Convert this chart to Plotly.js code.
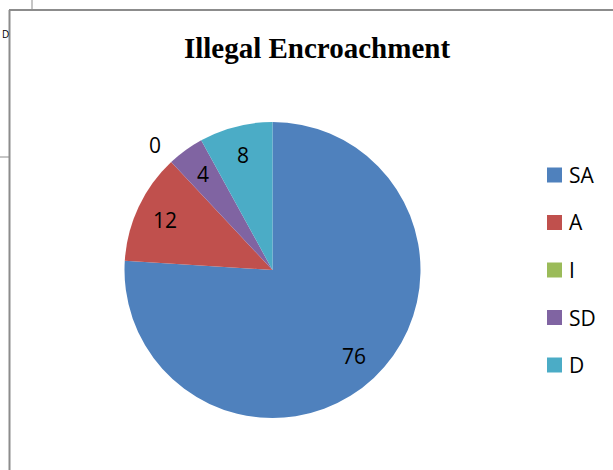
<!DOCTYPE html>
<html>
<head>
<meta charset="utf-8">
<script src="https://cdn.plot.ly/plotly-3.0.1.min.js"></script>
<style>html,body{margin:0;padding:0;background:#fff;}#chart{width:613px;height:470px;}</style>
</head>
<body>
<div id="chart"></div>
<script>
const categories = ["SA", "A", "I", "SD", "D"];
const values = [76, 12, 0, 4, 8];
const colors = ["#4F81BD", "#C0504D", "#9BBB59", "#8064A2", "#4BACC6"];
const chartTitle = "Illegal Encroachment";

const W = 613, H = 470;
const px = x => x / W;
const py = y => 1 - y / H;

// pie geometry (pixels)
const cx = 272.5, cy = 270, R = 148;

const total = values.reduce((a, b) => a + b, 0);
// labels placed along slice bisector at 0.8 R (Excel best-fit style)
const annotations = [];
let cum = 0;
values.forEach((v, i) => {
  const mid = (cum + v / 2) / total * 2 * Math.PI;
  cum += v;
  let rr = v === 0 ? 1.16 * R : 0.8 * R;
  annotations.push({
    xref: 'paper', yref: 'paper',
    x: px(cx + rr * Math.sin(mid)), y: py(cy - rr * Math.cos(mid)),
    text: String(v), showarrow: false,
    xanchor: 'center', yanchor: 'middle',
    font: {family: 'Open Sans, Noto Sans, sans-serif', size: 21, color: '#000'}
  });
});

// legend
const shapes = [];
const legTop = 175, legStep = 47.5;
categories.forEach((c, i) => {
  const yc = legTop + i * legStep;
  shapes.push({type: 'rect', xref: 'paper', yref: 'paper',
    x0: px(547), x1: px(562), y0: py(yc - 7.5), y1: py(yc + 7.5),
    fillcolor: colors[i], line: {width: 0}});
  annotations.push({xref: 'paper', yref: 'paper', x: px(567), y: py(yc),
    text: c, showarrow: false, xanchor: 'left', yanchor: 'middle',
    font: {family: 'Open Sans, Noto Sans, sans-serif', size: 21, color: '#000'}});
});

// frame lines (chart border pieces)
const gray = '#8c8c8c';
shapes.push({type: 'line', xref: 'paper', yref: 'paper', x0: px(9.5), x1: px(9.5), y0: py(10), y1: py(470), line: {color: gray, width: 2}});
shapes.push({type: 'line', xref: 'paper', yref: 'paper', x0: px(9), x1: px(613), y0: py(10), y1: py(10), line: {color: gray, width: 2}});
shapes.push({type: 'line', xref: 'paper', yref: 'paper', x0: px(32), x1: px(32), y0: py(0), y1: py(10), line: {color: gray, width: 1}});
shapes.push({type: 'line', xref: 'paper', yref: 'paper', x0: px(0), x1: px(9), y0: py(157), y1: py(157), line: {color: gray, width: 1}});
annotations.push({xref: 'paper', yref: 'paper', x: px(0), y: py(34), text: 'D', showarrow: false,
  xanchor: 'left', yanchor: 'middle', font: {family: 'Open Sans, sans-serif', size: 10, color: '#000'}});

const trace = {
  type: 'pie',
  labels: categories,
  values: values,
  marker: {colors: colors, line: {color: '#ffffff', width: 0}},
  sort: false,
  direction: 'clockwise',
  rotation: 0,
  textinfo: 'none',
  hoverinfo: 'label+value',
  showlegend: false,
  domain: {x: [px(cx - R), px(cx + R)], y: [py(cy + R), py(cy - R)]}
};

const layout = {
  width: W, height: H,
  margin: {l: 0, r: 0, t: 0, b: 0},
  paper_bgcolor: '#ffffff',
  showlegend: false,
  title: {text: '<b>' + chartTitle + '</b>', x: px(317), xanchor: 'center', y: py(48), yanchor: 'middle',
    font: {family: 'Liberation Serif, Times New Roman, serif', size: 29, color: '#000'}},
  annotations: annotations,
  shapes: shapes
};

Plotly.newPlot('chart', [trace], layout, {displayModeBar: false, staticPlot: true});
</script>
</body>
</html>
